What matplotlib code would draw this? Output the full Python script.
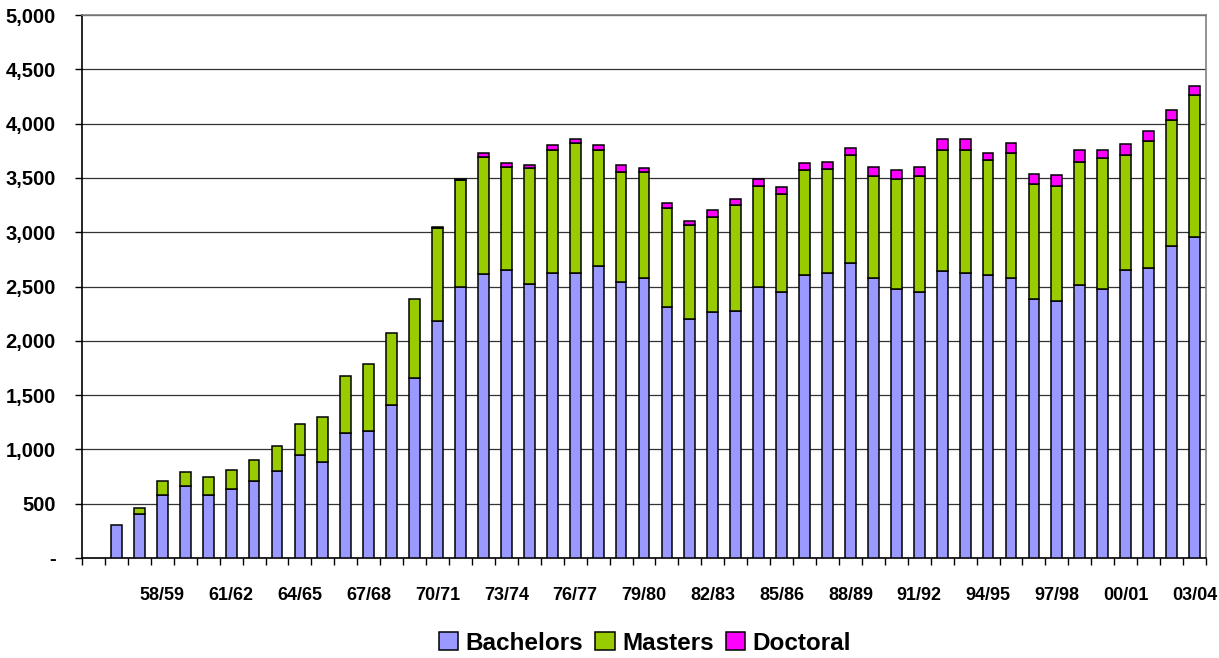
import numpy as np
import matplotlib
matplotlib.use("Agg")
import matplotlib.pyplot as plt
from matplotlib.ticker import FuncFormatter

plt.rcParams['font.family'] = ['Liberation Sans', 'DejaVu Sans']
plt.rcParams['font.weight'] = 'bold'

# academic years, 55/56 has no degrees recorded
seasons = ["55/56", "56/57", "57/58", "58/59", "59/60", "60/61", "61/62", "62/63",
           "63/64", "64/65", "65/66", "66/67", "67/68", "68/69", "69/70", "70/71",
           "71/72", "72/73", "73/74", "74/75", "75/76", "76/77", "77/78", "78/79",
           "79/80", "80/81", "81/82", "82/83", "83/84", "84/85", "85/86", "86/87",
           "87/88", "88/89", "89/90", "90/91", "91/92", "92/93", "93/94", "94/95",
           "95/96", "96/97", "97/98", "98/99", "99/00", "00/01", "01/02", "02/03",
           "03/04"]

bachelors = [0, 300, 409, 584, 661, 584, 633, 713, 802, 947, 882, 1152, 1168, 1405,
             1659, 2185, 2498, 2612, 2652, 2520, 2627, 2627, 2692, 2544, 2575, 2308,
             2198, 2262, 2277, 2498, 2449, 2609, 2624, 2719, 2575, 2480, 2449, 2640,
             2624, 2609, 2575, 2385, 2369, 2514, 2480, 2655, 2670, 2876, 2959]
masters = [0, 0, 52, 129, 129, 160, 175, 187, 228, 285, 415, 523, 620, 666,
           729, 855, 984, 1084, 952, 1069, 1134, 1198, 1069, 1011, 980, 913,
           866, 881, 977, 928, 904, 962, 962, 992, 946, 1011, 1072, 1121,
           1137, 1057, 1153, 1060, 1061, 1136, 1201, 1061, 1171, 1156, 1305]
doctoral = [0, 0, 0, 0, 0, 0, 0, 0, 0, 0, 0, 0, 0, 0,
            0, 8, 9, 34, 32, 31, 46, 34, 46, 68, 34, 51,
            37, 62, 53, 65, 61, 65, 64, 68, 83, 83, 83, 96,
            96, 64, 97, 95, 95, 111, 80, 94, 95, 95, 84]

colors = {"Bachelors": "#9999FF", "Masters": "#99CC00", "Doctoral": "#FF00FF"}

x = np.arange(len(seasons))
b = np.array(bachelors, dtype=float)
m = np.array(masters, dtype=float)
d = np.array(doctoral, dtype=float)

fig = plt.figure(figsize=(12.19, 6.58), dpi=100)
ax = fig.add_axes([0.0673, 0.152, 0.922, 0.825])

w = 0.47
edge = dict(edgecolor="black", linewidth=1.1, zorder=3)
mb, mm, md = b > 0, m > 0, d > 0
ax.bar(x[mb], b[mb], w, color=colors["Bachelors"], label="Bachelors", **edge)
ax.bar(x[mm], m[mm], w, bottom=b[mm], color=colors["Masters"], label="Masters", **edge)
ax.bar(x[md], d[md], w, bottom=(b + m)[md], color=colors["Doctoral"], label="Doctoral", **edge)

ax.set_xlim(-0.5, len(seasons) - 0.5)
ax.set_ylim(0, 5000)
ax.set_yticks(np.arange(0, 5001, 500))
ax.yaxis.set_major_formatter(FuncFormatter(lambda v, p: "-" if v == 0 else f"{int(v):,}"))
ax.grid(axis="y", color="#333333", linewidth=0.9, zorder=0)
ax.set_axisbelow(True)

# labels every third year, tick marks between categories
lab_idx = list(range(3, len(seasons), 3))
ax.set_xticks(lab_idx)
ax.set_xticklabels([seasons[i] for i in lab_idx])
ax.set_xticks(np.arange(-0.5, len(seasons)), minor=True)
ax.tick_params(axis="x", which="major", length=0, pad=21, labelsize=13)
ax.tick_params(axis="x", which="minor", length=5, width=1, color="black", direction="out")
ax.tick_params(axis="y", length=5, width=1, labelsize=14.5, pad=14)

for s in ("left", "bottom"):
    ax.spines[s].set_color("black")
    ax.spines[s].set_linewidth(1.2)
for s in ("top", "right"):
    ax.spines[s].set_color("#808080")
    ax.spines[s].set_linewidth(1.2)

fig.legend(loc="center", bbox_to_anchor=(0.529, 1 - 643 / 658), ncol=3, frameon=False,
           fontsize=17.5, handlelength=0.8, handleheight=0.8, handletextpad=0.3,
           columnspacing=0.5, prop={"weight": "bold", "size": 17.5})

fig.savefig("out.png", dpi=100)
